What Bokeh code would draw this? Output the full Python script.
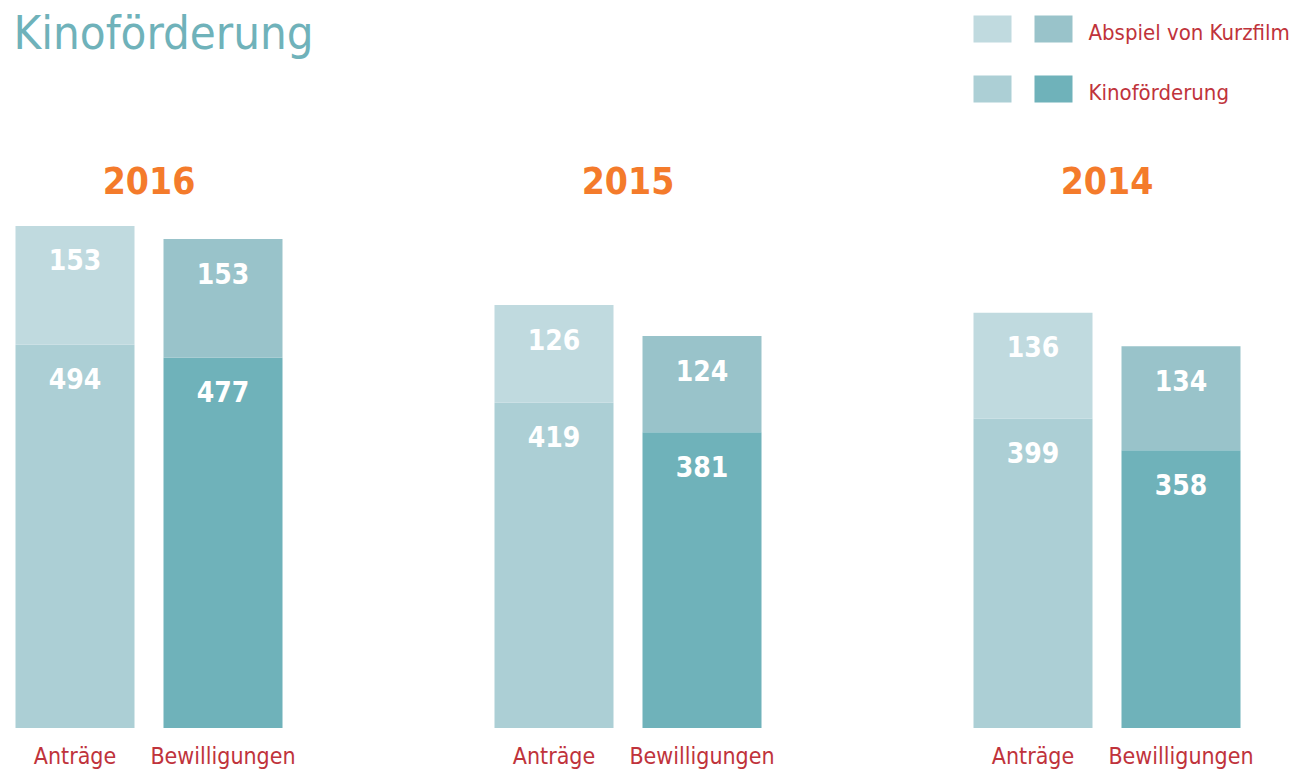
from bokeh.plotting import figure
from bokeh.models import Range1d, ColumnDataSource, Label
from bokeh.core.properties import value
from bokeh.embed import file_html
from bokeh.resources import INLINE

years = ["2016", "2015", "2014"]
categories = ["Anträge", "Bewilligungen"]
kino_antraege = [494, 419, 399]
kurz_antraege = [153, 126, 136]
kino_bewill = [477, 381, 358]
kurz_bewill = [153, 124, 134]

legend_labels = ["Abspiel von Kurzfilm", "Kinoförderung"]
title_text = "Kinoförderung"

C_KURZ_A = "#C0DADF"
C_KURZ_B = "#99C3CA"
C_KINO_A = "#ACCFD5"
C_KINO_B = "#6FB2BA"
C_YEAR = "#F47B2B"
C_RED = "#C0333B"
C_TITLE = "#6FB2BA"

FONT = "DejaVu Sans Condensed"

W, H = 1312, 770
PX_PER_UNIT = 0.776
BASE_Y = 727.5
y_top = BASE_Y / PX_PER_UNIT
y_bot = -(H - BASE_Y) / PX_PER_UNIT

p = figure(width=W, height=H, output_backend="svg", toolbar_location=None,
           x_range=Range1d(0, W), y_range=Range1d(y_bot, y_top),
           x_axis_type=None, y_axis_type=None, min_border=0)
p.outline_line_color = None
p.grid.visible = False
p.background_fill_color = "white"
p.border_fill_color = "white"

group_c = [148.5 + 479 * i for i in range(3)]
off = 74
bw = 119

xa = [g - off for g in group_c]
xb = [g + off for g in group_c]

src = ColumnDataSource(dict(
    xa=xa, xb=xb,
    ka=kino_antraege, kb=kino_bewill,
    ta=[a + b for a, b in zip(kino_antraege, kurz_antraege)],
    tb=[a + b for a, b in zip(kino_bewill, kurz_bewill)],
    ka_t=[str(v) for v in kino_antraege], kb_t=[str(v) for v in kino_bewill],
    sa_t=[str(v) for v in kurz_antraege], sb_t=[str(v) for v in kurz_bewill],
    gc=group_c, yr=years,
    ca=[categories[0]] * 3, cb=[categories[1]] * 3,
))

p.vbar(x="xa", width=bw, bottom=0, top="ka", fill_color=C_KINO_A, line_color=None, source=src)
p.vbar(x="xa", width=bw, bottom="ka", top="ta", fill_color=C_KURZ_A, line_color=None, source=src)
p.vbar(x="xb", width=bw, bottom=0, top="kb", fill_color=C_KINO_B, line_color=None, source=src)
p.vbar(x="xb", width=bw, bottom="kb", top="tb", fill_color=C_KURZ_B, line_color=None, source=src)

num_kw = dict(text_color="white", text_font=value(FONT), text_font_style="bold",
              text_font_size="28px", text_align="center", text_baseline="middle",
              y_offset=34, source=src)
p.text(x="xa", y="ka", text="ka_t", **num_kw)
p.text(x="xa", y="ta", text="sa_t", **num_kw)
p.text(x="xb", y="kb", text="kb_t", **num_kw)
p.text(x="xb", y="tb", text="sb_t", **num_kw)

# year labels
p.text(x="gc", y=0, text="yr", y_offset=-(BASE_Y - 180), text_color=C_YEAR,
       text_font=value(FONT), text_font_style="bold", text_font_size="37px",
       text_align="center", text_baseline="middle", source=src)

# category labels
cat_kw = dict(text_color=C_RED, text_font=value(FONT), text_font_size="23px",
              text_align="center", text_baseline="middle", y_offset=755 - BASE_Y, source=src)
p.text(x="xa", y=0, text="ca", **cat_kw)
p.text(x="xb", y=0, text="cb", **cat_kw)

# title
p.add_layout(Label(x=13, y=H - 32, x_units="screen", y_units="screen", text=title_text,
                   text_color=C_TITLE, text_font=FONT, text_font_size="47px",
                   text_baseline="middle", text_align="left"))

# legend
sw_x = [973, 1034]
rows_y = [28.5, 88.5]
sw_cols = [[C_KURZ_A, C_KURZ_B], [C_KINO_A, C_KINO_B]]
for r, (ry, lab) in enumerate(zip(rows_y, legend_labels)):
    for c, sx in enumerate(sw_x):
        cx = sx + 19
        p.rect(x=cx, y=(BASE_Y - ry) / PX_PER_UNIT, width=38, height=27 / PX_PER_UNIT,
               fill_color=sw_cols[r][c], line_color=None)
    p.add_layout(Label(x=1088, y=H - (ry + 3), x_units="screen", y_units="screen",
                       text=lab, text_color=C_RED, text_font=FONT, text_font_size="22px",
                       text_baseline="middle", text_align="left"))

open("out.html", "w").write(file_html(p, INLINE))
